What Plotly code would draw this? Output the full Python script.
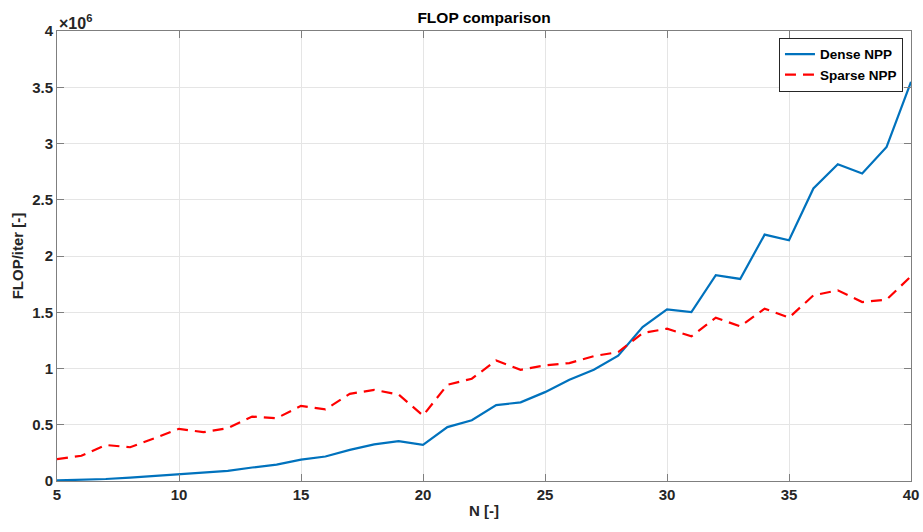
import plotly.graph_objects as go

# Problem size N and FLOP per iteration (in units of 1e6)
n_values = list(range(5, 41))
dense_npp = [0.005, 0.01, 0.018, 0.03, 0.045, 0.06, 0.072, 0.09, 0.12, 0.145,
             0.19, 0.218, 0.277, 0.325, 0.355, 0.322, 0.479, 0.54, 0.675, 0.699,
             0.79, 0.90, 0.989, 1.114, 1.369, 1.526, 1.502, 1.83, 1.796, 2.19,
             2.14, 2.60, 2.816, 2.733, 2.97, 3.548]
sparse_npp = [0.194, 0.224, 0.32, 0.30, 0.38, 0.464, 0.434, 0.47, 0.573, 0.558,
              0.668, 0.636, 0.775, 0.81, 0.769, 0.582, 0.855, 0.909, 1.072, 0.989,
              1.028, 1.048, 1.11, 1.146, 1.315, 1.354, 1.286, 1.452, 1.374, 1.532,
              1.452, 1.65, 1.695, 1.591, 1.612, 1.82]

x_ticks = [5, 10, 15, 20, 25, 30, 35, 40]
y_ticks = [0, 0.5, 1, 1.5, 2, 2.5, 3, 3.5, 4]
y_tick_text = ["0", "0.5", "1", "1.5", "2", "2.5", "3", "3.5", "4"]

FONT = "Liberation Sans, Arial, sans-serif"
TXT = "#262626"

fig = go.Figure()
fig.add_trace(go.Scatter(x=n_values, y=dense_npp, mode="lines", name="<b>Dense NPP</b>",
                         line=dict(color="#0072BD", width=2.2)))
fig.add_trace(go.Scatter(x=n_values, y=sparse_npp, mode="lines", name="<b>Sparse NPP</b>",
                         line=dict(color="#FF0000", width=2.2, dash="11px,7px")))

axis_common = dict(
    showline=True, linecolor="#7f7f7f", linewidth=1, mirror="ticks",
    ticks="inside", ticklen=7, tickcolor="#7f7f7f", tickwidth=1,
    showgrid=True, gridcolor="#e5e5e5", gridwidth=1, zeroline=False,
    automargin=False,
    tickfont=dict(family=FONT, size=15, color=TXT, weight="bold"),
)

fig.update_layout(
    width=923, height=532,
    margin=dict(l=57, r=12, t=31, b=51),
    paper_bgcolor="white", plot_bgcolor="white",
    title=dict(text="<b>FLOP comparison</b>", x=0.5, xref="paper", xanchor="center",
               y=1 - 17.5 / 532, yref="container", yanchor="middle",
               font=dict(family=FONT, size=15.5, color="black")),
    xaxis=dict(range=[5, 40], tickvals=x_ticks, **axis_common,
               title=dict(text="<b>N [-]</b>", standoff=3,
                          font=dict(family=FONT, size=15, color=TXT))),
    yaxis=dict(range=[0, 4], tickvals=y_ticks, ticktext=y_tick_text, **axis_common,
               title=dict(text="<b>FLOP/iter [-]</b>", standoff=4,
                          font=dict(family=FONT, size=15, color=TXT))),
    legend=dict(x=0.9906, y=0.985, xanchor="right", yanchor="top",
                bgcolor="white", bordercolor="#262626", borderwidth=1,
                font=dict(family=FONT, size=13.5, color="black"),
                tracegroupgap=0, itemwidth=30),
    showlegend=True,
)

fig.add_annotation(text="<b>×10<sup>6</sup></b>", xref="paper", yref="paper",
                   x=0, y=1, xanchor="left", yanchor="bottom", showarrow=False,
                   font=dict(family=FONT, size=16, color=TXT), yshift=-3)

fig.write_html("out.html")
